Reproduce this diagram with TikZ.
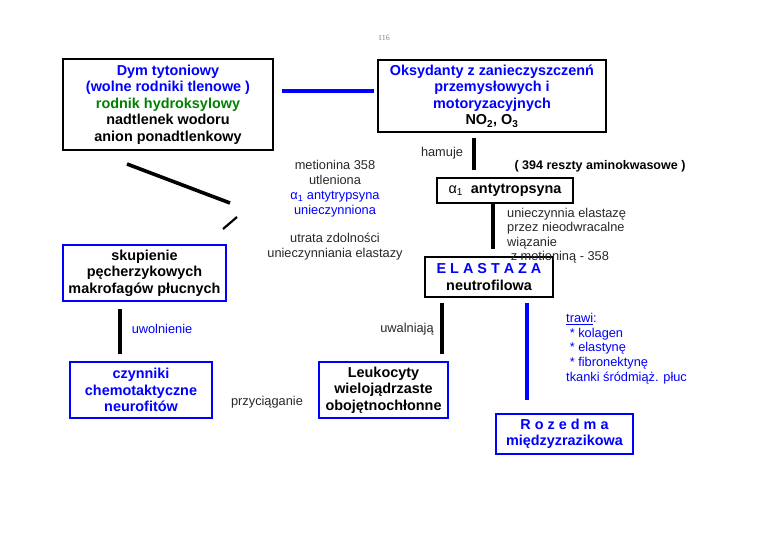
\documentclass[tikz,border=0pt]{standalone}
\usepackage{fontspec}
\setmainfont{Liberation Sans}
\newfontfamily\serifpn{Liberation Serif}
\definecolor{pureblue}{RGB}{0,0,255}
\definecolor{dgreen}{RGB}{0,128,0}
\definecolor{txtgray}{RGB}{40,40,40}
\begin{document}
\begin{tikzpicture}[x=1pt,y=-1pt,
  boxk/.style={draw=black,line width=2.6pt,inner sep=0pt,align=center,
    font=\fontsize{14.4}{16.5}\selectfont\bfseries},
  boxb/.style={draw=pureblue,line width=2.8pt,inner sep=0pt,align=center,
    font=\fontsize{14.4}{16.5}\selectfont\bfseries},
  lbl/.style={inner sep=0pt,align=center,text=txtgray,
    font=\fontsize{12.8}{15}\selectfont},
  conk/.style={draw=black,line width=4pt},
  conb/.style={draw=pureblue,line width=4pt}]
\useasboundingbox (0,0) rectangle (768,543);
\fill[white] (0,0) rectangle (768,543);

\node[inner sep=0pt,text=gray,font=\serifpn\fontsize{8}{9}\selectfont] (pg) at (384,38) {116};

% boxes
\node[boxk,minimum width=210,minimum height=91] (dym) at (168,104.5)
  {\textcolor{pureblue}{Dym tytoniowy}\\
   \textcolor{pureblue}{(wolne rodniki tlenowe )}\\
   \textcolor{dgreen}{rodnik hydroksylowy}\\
   nadtlenek wodoru\\
   anion ponadtlenkowy};
\node[boxk,minimum width=228,minimum height=72] (oks) at (492,96)
  {\textcolor{pureblue}{Oksydanty z zanieczyszczenń}\\
   \textcolor{pureblue}{przemysłowych i}\\
   \textcolor{pureblue}{motoryzacyjnych}\\
   NO\textsubscript{2}, O\textsubscript{3}};
\node[boxk,minimum width=136,minimum height=25] (alfa) at (505,190.5)
  {{\mdseries α\textsubscript{1}}\ \ antytropsyna};
\node[boxk,minimum width=128,minimum height=40] (ela) at (489,277)
  {\textcolor{pureblue}{E L A S T A Z A}\\ neutrofilowa};
\node[boxb,minimum width=163,minimum height=56] (sku) at (144.5,273)
  {skupienie\\ pęcherzykowych\\ makrofagów płucnych};
\node[boxb,minimum width=142,minimum height=56,text=pureblue] (czy) at (141,390)
  {czynniki\\ chemotaktyczne\\ neurofitów};
\node[boxb,minimum width=129,minimum height=56] (leu) at (383.5,390)
  {Leukocyty\\ wielojądrzaste\\ obojętnochłonne};
\node[boxb,minimum width=137,minimum height=40,text=pureblue] (roz) at (564.5,434)
  {R o z e d m a\\ międzyzrazikowa};

% labels
\node[lbl] (ham) at (442,153) {hamuje};
\node[lbl,font=\fontsize{12.5}{15}\selectfont\bfseries,text=black] (res) at (600,166) {( 394 reszty aminokwasowe )};
\node[lbl] (met) at (335,189) {metionina 358\\ utleniona\\
  \textcolor{pureblue}{α\textsubscript{1} antytrypsyna}\\ \textcolor{pureblue}{unieczynniona}};
\node[lbl] (utr) at (335,246.5) {utrata zdolności\\ unieczynniania elastazy};
\node[lbl,align=left,anchor=north west,font=\fontsize{12.8}{14.4}\selectfont] (uni) at (507,208)
  {unieczynnia elastazę\\ przez nieodwracalne\\ wiązanie\\ \ z metioniną - 358};
\node[lbl,text=pureblue] (uwo) at (162,329) {uwolnienie};
\node[lbl] (uwa) at (407,329) {uwalniają};
\node[lbl] (prz) at (267,402) {przyciąganie};
\node[lbl,align=left,anchor=north west,text=pureblue,font=\fontsize{12.8}{14.7}\selectfont] (tra) at (566,313)
  {\underline{trawi}:\\ \ * kolagen\\ \ * elastynę\\ \ * fibronektynę\\ tkanki śródmiąż. płuc};

% connector end points
\coordinate (c1a) at (282,91);   \coordinate (c1b) at (374,91);
\coordinate (c2a) at (474,138);  \coordinate (c2b) at (474,170);
\coordinate (c3a) at (127,164);  \coordinate (c3b) at (230,203);
\coordinate (c4a) at (223,229);  \coordinate (c4b) at (237,217);
\coordinate (c5a) at (493,203);  \coordinate (c5b) at (493,249);
\coordinate (c6a) at (120,309);  \coordinate (c6b) at (120,354);
\coordinate (c7a) at (442,303);  \coordinate (c7b) at (442,354);
\coordinate (c8a) at (527,303);  \coordinate (c8b) at (527,400);

\draw[conb] (c1a) -- (c1b);
\draw[conk] (c2a) -- (c2b);
\draw[draw=black,line width=3.6pt] (c3a) -- (c3b);
\draw[draw=black,line width=2.2pt] (c4a) -- (c4b);
\draw[conk] (c5a) -- (c5b);
\draw[conk] (c6a) -- (c6b);
\draw[conk] (c7a) -- (c7b);
\draw[conb] (c8a) -- (c8b);
\end{tikzpicture}
\end{document}
